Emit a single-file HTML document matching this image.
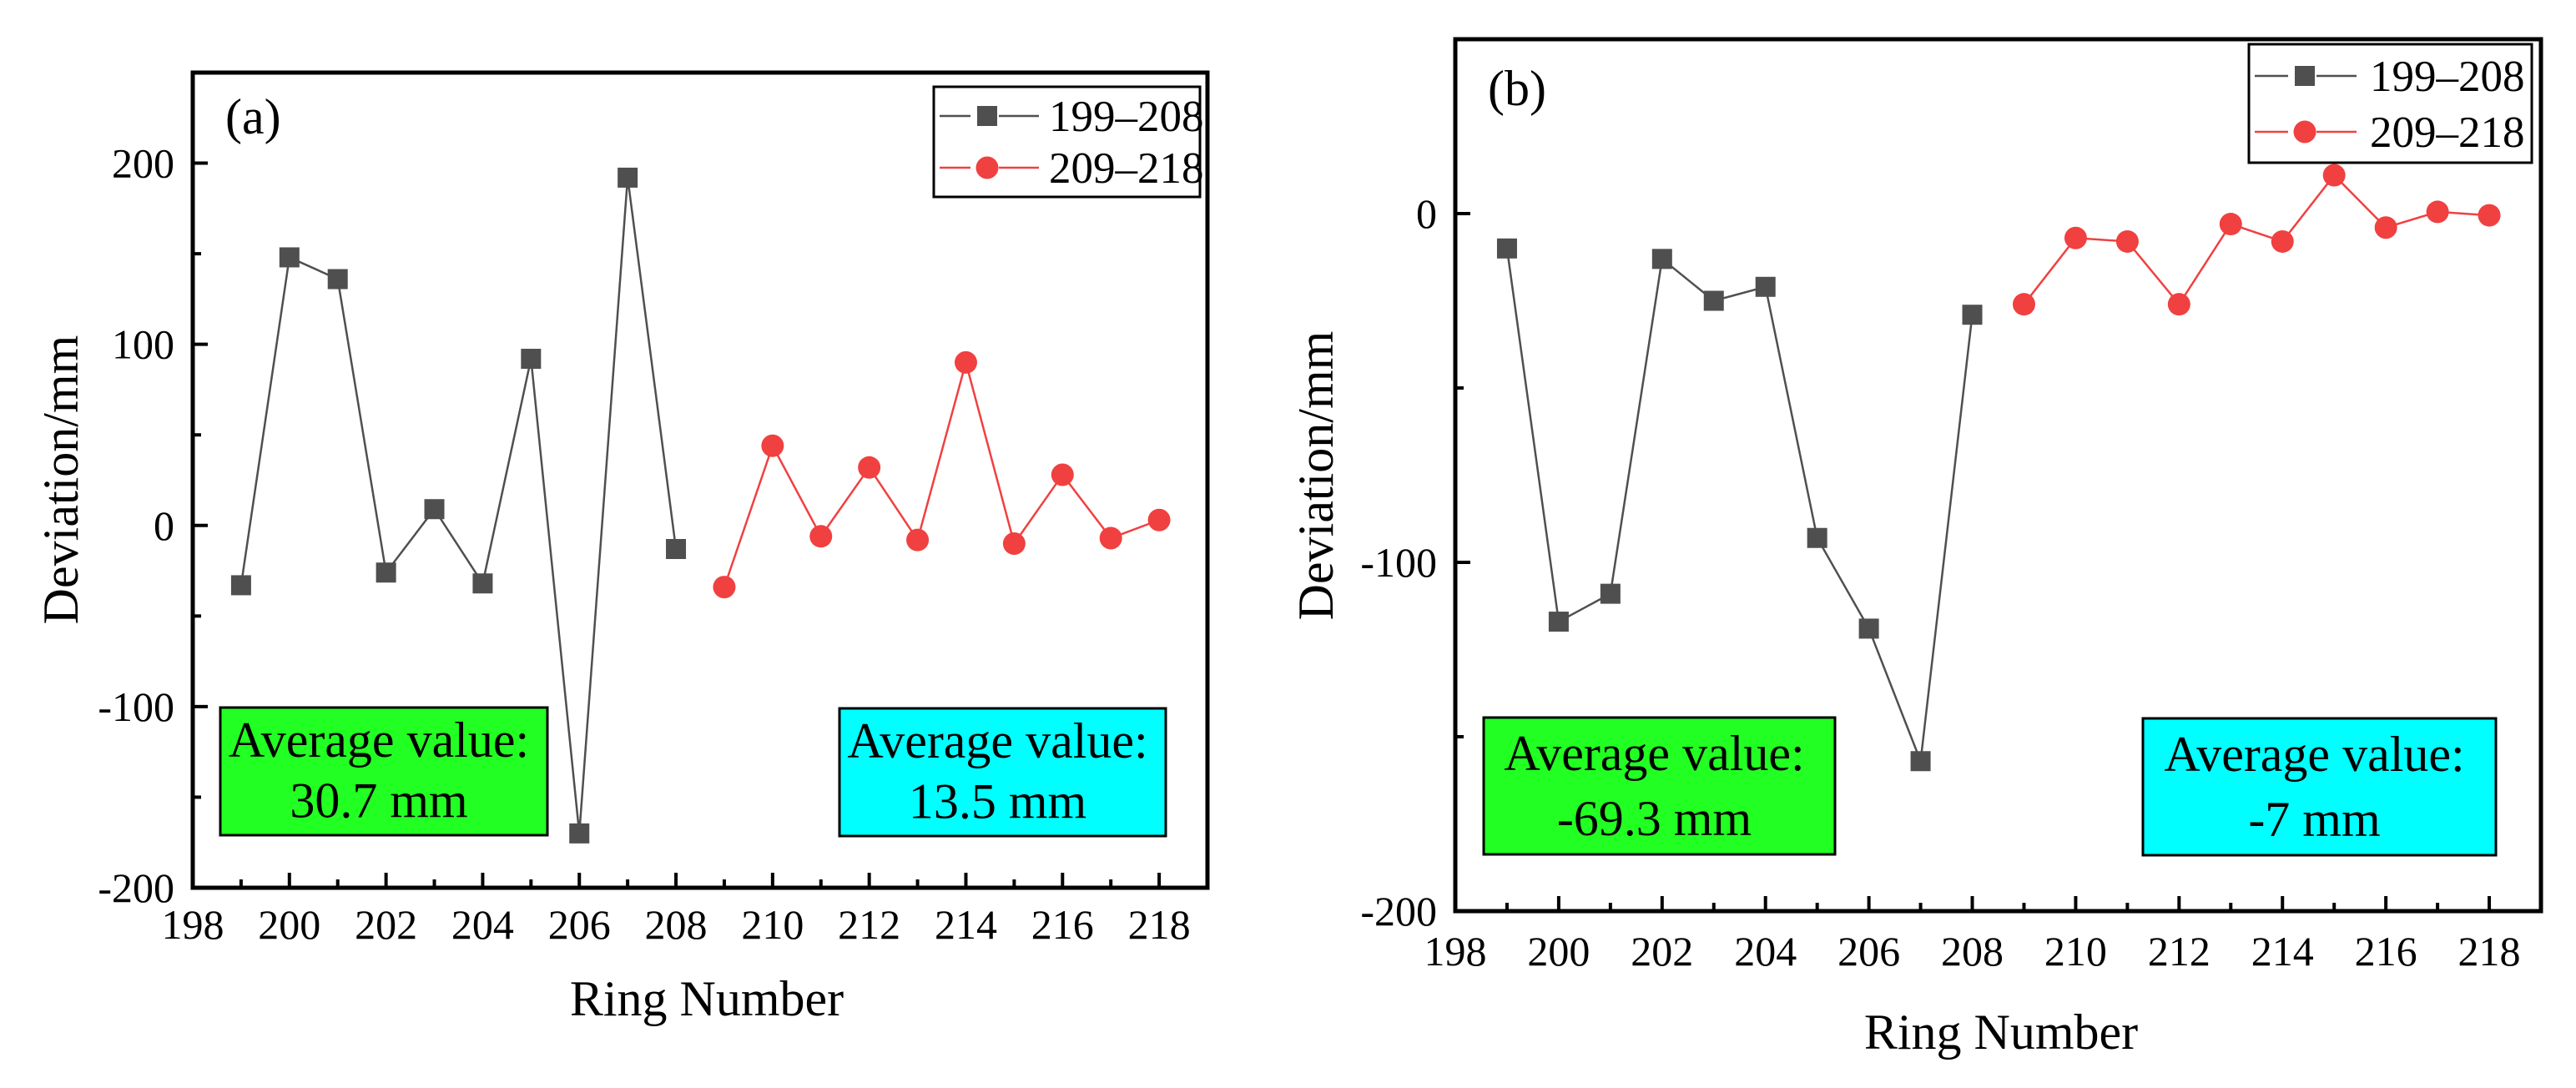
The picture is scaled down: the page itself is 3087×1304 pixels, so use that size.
<!DOCTYPE html>
<html><head><meta charset="utf-8"><style>
html,body{margin:0;padding:0;background:#fff}
svg{display:block}
text{font-family:"Liberation Serif",serif;fill:#000}
</style></head><body>
<svg id="fig" width="3087" height="1304" viewBox="0 0 3087 1304" xmlns="http://www.w3.org/2000/svg"></svg>
<script>
const rings = [199,200,201,202,203,204,205,206,207,208,209,210,211,212,213,214,215,216,217,218];
const seriesA1 = [-33,148,136,-26,9,-32,92,-170,192,-13];
const seriesA2 = [-34,44,-6,32,-8,90,-10,28,-7,3];
const seriesB1 = [-10,-117,-109,-13,-25,-21,-93,-119,-157,-29];
const seriesB2 = [-26,-7,-8,-26,-3,-8,11,-4,0.5,-0.5];
const xTicks = [198,200,202,204,206,208,210,212,214,216,218];
const yTicksA = [-200,-100,0,100,200];
const yTicksB = [-200,-100,0];
const seriesLabels = ['199–208','209–218'];

const NS='http://www.w3.org/2000/svg';
const svg=document.getElementById('fig');
function mk(tag,attrs,parent,txt){const e=document.createElementNS(NS,tag);for(const k in attrs)e.setAttribute(k,attrs[k]);if(txt!==undefined)e.textContent=txt;(parent||svg).appendChild(e);return e;}

function panel(cfg){
  const g=mk('g',{});
  
  
  const X=v=>cfg.L+(v-198)/(219-198)*(cfg.R-cfg.L);
  const Y=v=>cfg.B-(v-cfg.ymin)/(cfg.ymax-cfg.ymin)*(cfg.B-cfg.T);
  cfg.boxes.forEach(b=>{
    const bg=mk('g',{},g);
    
    
    mk('rect',{x:b.x,y:b.y,width:b.w,height:b.h,fill:b.fill,stroke:'#000','stroke-width':3},bg);
    mk('text',{x:b.x+b.w/2-6,y:b.y+b.h*0.385,'font-size':60,'text-anchor':'middle'},bg,'Average value:');
    mk('text',{x:b.x+b.w/2-6,y:b.y+b.h*0.86,'font-size':60,'text-anchor':'middle'},bg,b.val);
  });
  xTicks.forEach(t=>{
    const x=X(t);
    const tk=mk('line',{x1:x,x2:x,y1:cfg.B,y2:cfg.B-18,stroke:'#000','stroke-width':4},g);
    
    
    const lb=mk('text',{x:x,y:cfg.xlabY,'font-size':50,'text-anchor':'middle'},g,String(t));
    
    
    if(t<218){const xm=X(t+1);mk('line',{x1:xm,x2:xm,y1:cfg.B,y2:cfg.B-10,stroke:'#000','stroke-width':4},g);}
  });
  cfg.yticks.forEach(t=>{
    const y=Y(t);
    const tk=mk('line',{x1:cfg.L,x2:cfg.L+18,y1:y,y2:y,stroke:'#000','stroke-width':4},g);
    
    
    const lb=mk('text',{x:cfg.L-22,y:y+17,'font-size':50,'text-anchor':'end'},g,String(t));
    
    
    if(t+50<cfg.ymax){const ym=Y(t+50);mk('line',{x1:cfg.L,x2:cfg.L+10,y1:ym,y2:ym,stroke:'#000','stroke-width':4},g);}
  });
  const draw=(vals,off,color,shape,nm)=>{
    const sg=mk('g',{},g);
    
    
    const pts=vals.map((v,i)=>X(rings[i+off])+','+Y(v)).join(' ');
    mk('polyline',{points:pts,fill:'none',stroke:color,'stroke-width':2.5},sg);
    vals.forEach((v,i)=>{
      const x=X(rings[i+off]),y=Y(v);
      let m;
      if(shape==='sq') m=mk('rect',{x:x-12,y:y-12,width:24,height:24,fill:color},sg);
      else m=mk('circle',{cx:x,cy:y,r:13.5,fill:color},sg);
      
      
    });
  };
  draw(cfg.s1,0,'#4f4f4f','sq','series-199-208');
  draw(cfg.s2,10,'#f04040','ci','series-209-218');
  const fr=mk('rect',{x:cfg.L,y:cfg.T,width:cfg.R-cfg.L,height:cfg.B-cfg.T,fill:'none',stroke:'#000','stroke-width':5},g);
  
  
  const lg=cfg.leg;
  const lgg=mk('g',{},g);
  
  
  mk('rect',{x:lg.x,y:lg.y,width:lg.w,height:lg.h,fill:'#fff',stroke:'#000','stroke-width':3},lgg);
  [['#4f4f4f','sq'],['#f04040','ci']].forEach((s,i)=>{
    const ry=lg.r[i];
    const eg=mk('g',{},lgg);
    
    
    mk('line',{x1:lg.x+7,x2:lg.mx-20,y1:ry,y2:ry,stroke:s[0],'stroke-width':2.5},eg);
    mk('line',{x1:lg.mx+14,x2:lg.mx+62,y1:ry,y2:ry,stroke:s[0],'stroke-width':2.5},eg);
    if(s[1]==='sq') mk('rect',{x:lg.mx-12,y:ry-12,width:24,height:24,fill:s[0]},eg);
    else mk('circle',{cx:lg.mx,cy:ry,r:13.5,fill:s[0]},eg);
    mk('text',{x:lg.tx,y:ry+18,'font-size':53},eg,seriesLabels[i]);
  });
  const pl=mk('text',{x:cfg.pl[0],y:cfg.pl[1],'font-size':60},g,cfg.plabel);
  
  
  const xt=mk('text',{x:cfg.xt[0],y:cfg.xt[1],'font-size':60,'text-anchor':'middle'},g,'Ring Number');
  
  
  const yt=mk('text',{x:0,y:0,'font-size':60,'text-anchor':'middle',transform:'translate('+cfg.yt[0]+','+cfg.yt[1]+') rotate(-90)'},g,'Deviation/mm');
  
  
}

panel({name:'panel-a',L:231,R:1447,T:87,B:1064,ymin:-200,ymax:250,yticks:yTicksA,xlabY:1125,
  s1:seriesA1,s2:seriesA2,plabel:'(a)',pl:[270,160],xt:[847,1217],yt:[93,575],
  leg:{x:1119,y:104,w:319,h:132,r:[139,201],mx:1183,tx:1257},
  boxes:[{name:'average-box-a1',x:264,y:848,w:392,h:153,fill:'#22ff22',val:'30.7 mm'},
         {name:'average-box-a2',x:1006,y:849,w:391,h:153,fill:'#00ffff',val:'13.5 mm'}]});
panel({name:'panel-b',L:1744,R:3045,T:47,B:1092,ymin:-200,ymax:50,yticks:yTicksB,xlabY:1157,
  s1:seriesB1,s2:seriesB2,plabel:'(b)',pl:[1783,126],xt:[2398,1257],yt:[1597,570],
  leg:{x:2695,y:53,w:339,h:142,r:[91,158],mx:2762,tx:2840},
  boxes:[{name:'average-box-b1',x:1778,y:860,w:421,h:164,fill:'#22ff22',val:'-69.3 mm'},
         {name:'average-box-b2',x:2568,y:861,w:423,h:164,fill:'#00ffff',val:'-7 mm'}]});
</script>
</body></html>
